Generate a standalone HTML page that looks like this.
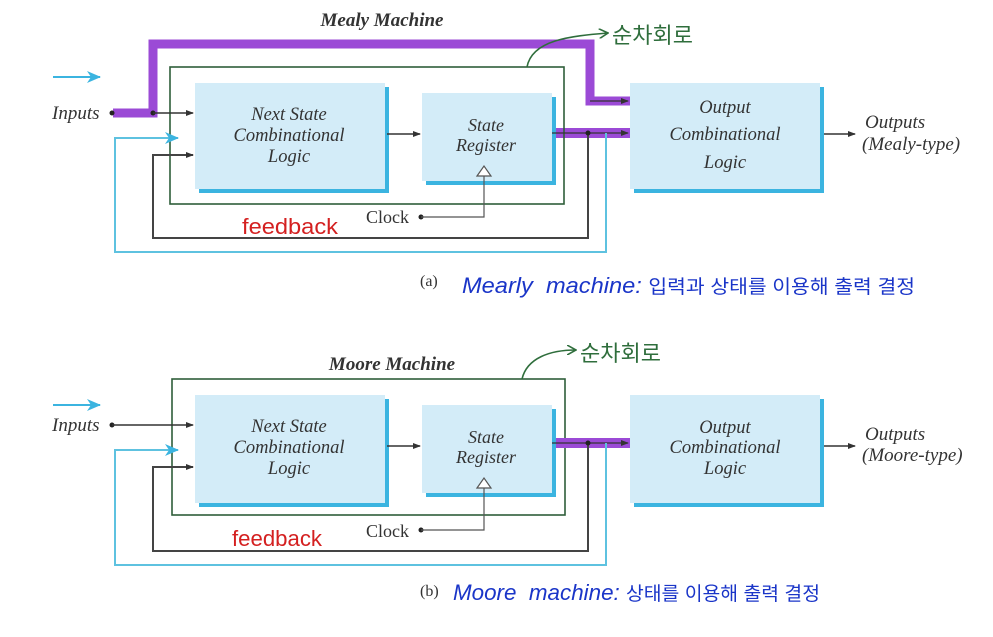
<!DOCTYPE html>
<html><head><meta charset="utf-8"><style>
html,body{margin:0;padding:0;background:#fff;}
svg{display:block;}
.ti{font-family:"Liberation Serif",serif;font-style:italic;fill:#333;}
.hw{font-family:"Liberation Sans","Noto Sans CJK KR",sans-serif;}
</style></head><body>
<svg width="993" height="637" viewBox="0 0 993 637" xmlns="http://www.w3.org/2000/svg">
<defs>
<marker id="ab" markerWidth="8" markerHeight="8" refX="7" refY="4" orient="auto" markerUnits="userSpaceOnUse"><path d="M0,1 L8,4 L0,7 Z" fill="#333"/></marker>
<marker id="ac" markerWidth="14" markerHeight="12" refX="13" refY="6" orient="auto" markerUnits="userSpaceOnUse"><path d="M0,0 L14,6 L0,12 L4,6 Z" fill="#3bb4e0"/></marker>
<marker id="ag" markerWidth="10" markerHeight="10" refX="9" refY="5" orient="auto" markerUnits="userSpaceOnUse"><path d="M0,0 L9,5 L0,10" fill="none" stroke="#2f6e3c" stroke-width="1.6"/></marker>
</defs>

<!-- ========== (a) Mealy ========== -->
<g>
<text x="382" y="26" text-anchor="middle" class="ti" font-weight="bold" font-size="19">Mealy Machine</text>
<line x1="53" y1="77" x2="100" y2="77" stroke="#3bb4e0" stroke-width="2" marker-end="url(#ac)"/>
<text x="52" y="119" class="ti" font-size="19">Inputs</text>
<path d="M113,113 H153 V44 H590 V101 H630" fill="none" stroke="#9b4ad6" stroke-width="9"/>
<rect x="552" y="128" width="78" height="10" fill="#9b4ad6"/>
<rect x="170" y="67" width="394" height="137" fill="none" stroke="#2f5e3a" stroke-width="1.6"/>
<rect x="199" y="87" width="190" height="106" fill="#3bb4e0"/>
<rect x="195" y="83" width="190" height="106" fill="#d3ecf8"/>
<rect x="426" y="97" width="130" height="88" fill="#3bb4e0"/>
<rect x="422" y="93" width="130" height="88" fill="#d3ecf8"/>
<rect x="634" y="87" width="190" height="106" fill="#3bb4e0"/>
<rect x="630" y="83" width="190" height="106" fill="#d3ecf8"/>
<text class="ti" font-size="18.5" text-anchor="middle"><tspan x="289" y="120">Next State</tspan><tspan x="289" y="141">Combinational</tspan><tspan x="289" y="162">Logic</tspan></text>
<text class="ti" font-size="18" text-anchor="middle"><tspan x="486" y="131">State</tspan><tspan x="486" y="151">Register</tspan></text>
<text class="ti" font-size="18.5" text-anchor="middle"><tspan x="725" y="113">Output</tspan><tspan x="725" y="140">Combinational</tspan><tspan x="725" y="168">Logic</tspan></text>
<circle cx="112" cy="113" r="2.5" fill="#222"/>
<circle cx="153" cy="113" r="2.5" fill="#222"/>
<line x1="153" y1="113" x2="193" y2="113" stroke="#333" stroke-width="1.5" marker-end="url(#ab)"/>
<line x1="387" y1="134" x2="420" y2="134" stroke="#333" stroke-width="1.5" marker-end="url(#ab)"/>
<line x1="590" y1="101" x2="628" y2="101" stroke="#333" stroke-width="1.2" marker-end="url(#ab)"/>
<line x1="552" y1="133" x2="628" y2="133" stroke="#333" stroke-width="1.2" marker-end="url(#ab)"/>
<path d="M588,133 V238 H153 V155 H193" fill="none" stroke="#444" stroke-width="2" marker-end="url(#ab)"/>
<circle cx="588" cy="133" r="2.5" fill="#222"/>
<path d="M606,133 V252 H115 V138 H178" fill="none" stroke="#5ec2e0" stroke-width="2" marker-end="url(#ac)"/>
<text x="366" y="223" font-family="Liberation Serif,serif" font-size="18" fill="#333">Clock</text>
<circle cx="421" cy="217" r="2.5" fill="#222"/>
<path d="M421,217 H484 V176" fill="none" stroke="#555" stroke-width="1.2"/>
<path d="M477,176 L484,166 L491,176 Z" fill="#fff" stroke="#555" stroke-width="1.2"/>
<line x1="824" y1="134" x2="855" y2="134" stroke="#333" stroke-width="1.5" marker-end="url(#ab)"/>
<text class="ti" font-size="19"><tspan x="865" y="128">Outputs</tspan><tspan x="862" y="150">(Mealy-type)</tspan></text>
<path d="M527,67 C532,40 570,36 608,33" fill="none" stroke="#2f6e3c" stroke-width="1.6" marker-end="url(#ag)"/>
<text x="612" y="43" class="hw" font-size="22" fill="#2f6e3c">순차회로</text>
<text x="242" y="234" class="hw" font-size="22" fill="#d42020" textLength="96" lengthAdjust="spacingAndGlyphs">feedback</text>
<text x="420" y="286" font-family="Liberation Serif,serif" font-size="16" fill="#333">(a)</text>
<text x="462" y="293" class="hw" font-size="22" fill="#1a35c8" font-style="italic" textLength="453" lengthAdjust="spacingAndGlyphs">Mearly&#160; machine: <tspan font-size="19" font-style="normal">입력과 상태를 이용해 출력 결정</tspan></text>
</g>

<!-- ========== (b) Moore ========== -->
<g>
<text x="392" y="370" text-anchor="middle" class="ti" font-weight="bold" font-size="19">Moore Machine</text>
<line x1="53" y1="405" x2="100" y2="405" stroke="#3bb4e0" stroke-width="2" marker-end="url(#ac)"/>
<text x="52" y="431" class="ti" font-size="19">Inputs</text>
<rect x="172" y="379" width="393" height="136" fill="none" stroke="#2f5e3a" stroke-width="1.6"/>
<rect x="552" y="438" width="78" height="10" fill="#9b4ad6"/>
<rect x="199" y="399" width="190" height="108" fill="#3bb4e0"/>
<rect x="195" y="395" width="190" height="108" fill="#d3ecf8"/>
<rect x="426" y="409" width="130" height="88" fill="#3bb4e0"/>
<rect x="422" y="405" width="130" height="88" fill="#d3ecf8"/>
<rect x="634" y="399" width="190" height="108" fill="#3bb4e0"/>
<rect x="630" y="395" width="190" height="108" fill="#d3ecf8"/>
<text class="ti" font-size="18.5" text-anchor="middle"><tspan x="289" y="432">Next State</tspan><tspan x="289" y="453">Combinational</tspan><tspan x="289" y="474">Logic</tspan></text>
<text class="ti" font-size="18" text-anchor="middle"><tspan x="486" y="443">State</tspan><tspan x="486" y="463">Register</tspan></text>
<text class="ti" font-size="18.5" text-anchor="middle"><tspan x="725" y="433">Output</tspan><tspan x="725" y="453">Combinational</tspan><tspan x="725" y="474">Logic</tspan></text>
<circle cx="112" cy="425" r="2.5" fill="#222"/>
<line x1="112" y1="425" x2="193" y2="425" stroke="#333" stroke-width="1.5" marker-end="url(#ab)"/>
<line x1="387" y1="446" x2="420" y2="446" stroke="#333" stroke-width="1.5" marker-end="url(#ab)"/>
<line x1="552" y1="443" x2="628" y2="443" stroke="#333" stroke-width="1.2" marker-end="url(#ab)"/>
<path d="M588,443 V551 H153 V467 H193" fill="none" stroke="#444" stroke-width="2" marker-end="url(#ab)"/>
<circle cx="588" cy="443" r="2.5" fill="#222"/>
<path d="M606,443 V565 H115 V450 H178" fill="none" stroke="#5ec2e0" stroke-width="2" marker-end="url(#ac)"/>
<text x="366" y="537" font-family="Liberation Serif,serif" font-size="18" fill="#333">Clock</text>
<circle cx="421" cy="530" r="2.5" fill="#222"/>
<path d="M421,530 H484 V488" fill="none" stroke="#555" stroke-width="1.2"/>
<path d="M477,488 L484,478 L491,488 Z" fill="#fff" stroke="#555" stroke-width="1.2"/>
<line x1="824" y1="446" x2="855" y2="446" stroke="#333" stroke-width="1.5" marker-end="url(#ab)"/>
<text class="ti" font-size="19"><tspan x="865" y="440">Outputs</tspan><tspan x="862" y="461">(Moore-type)</tspan></text>
<path d="M522,379 C527,358 550,350 576,350" fill="none" stroke="#2f6e3c" stroke-width="1.6" marker-end="url(#ag)"/>
<text x="580" y="361" class="hw" font-size="22" fill="#2f6e3c">순차회로</text>
<text x="232" y="546" class="hw" font-size="22" fill="#d42020" textLength="90" lengthAdjust="spacingAndGlyphs">feedback</text>
<text x="420" y="596" font-family="Liberation Serif,serif" font-size="16" fill="#333">(b)</text>
<text x="453" y="600" class="hw" font-size="22" fill="#1a35c8" font-style="italic" textLength="367" lengthAdjust="spacingAndGlyphs">Moore&#160; machine: <tspan font-size="19" font-style="normal">상태를 이용해 출력 결정</tspan></text>
</g>
</svg>
</body></html>
